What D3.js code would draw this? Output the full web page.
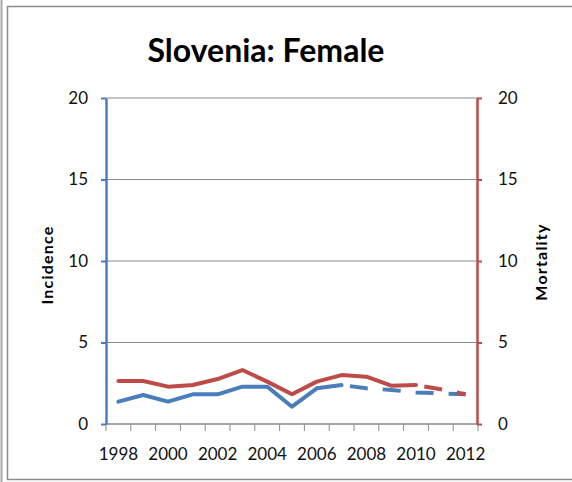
<!DOCTYPE html>
<html>
<head>
<meta charset="utf-8">
<script src="https://cdn.jsdelivr.net/npm/d3@7"></script>
<style>
  html, body { margin: 0; padding: 0; background: #fff; }
  svg { display: block; }
  text { font-family: Lato, "Open Sans", "Liberation Sans", sans-serif; }
</style>
</head>
<body>
<svg id="chart" width="572" height="482"></svg>
<script>
// Slovenia, female: incidence (left axis) and mortality (right axis), 1998-2012
const years = [1998, 1999, 2000, 2001, 2002, 2003, 2004, 2005, 2006, 2007, 2008, 2009, 2010, 2011, 2012];
const incidence = [1.37, 1.78, 1.37, 1.82, 1.82, 2.29, 2.29, 1.06, 2.19, 2.39, 2.19, 2.09, 1.94, 1.88, 1.82];
const mortality = [2.64, 2.64, 2.29, 2.39, 2.76, 3.31, 2.6, 1.82, 2.6, 3.0, 2.9, 2.35, 2.39, 2.13, 1.82];
// last observed year for each series; later years are projections (dashed)
const incidenceLastObserved = 2007;
const mortalityLastObserved = 2010;
const yTicks = [0, 5, 10, 15, 20];
const xTickLabels = [1998, 2000, 2002, 2004, 2006, 2008, 2010, 2012];

const blue = "#4a7ebb";
const red = "#be4b48";
const gridColor = "#8a8a8a";
const labelFont = "Lato, 'Open Sans', sans-serif";

const svg = d3.select("#chart");

// frame
svg.append("line").attr("x1", 1.5).attr("x2", 1.5).attr("y1", 0).attr("y2", 482)
  .attr("stroke", "#a8a8a8").attr("stroke-width", 2);
svg.append("rect").attr("x", 7.5).attr("y", 6.5).attr("width", 580).attr("height", 473)
  .attr("fill", "#fff").attr("stroke", "#8c8c8c").attr("stroke-width", 1.5);

const plotLeft = 106, plotRight = 478, plotTop = 98, plotBottom = 424;

const x = d3.scaleBand().domain(years).range([plotLeft, plotRight]);
const y = d3.scaleLinear().domain([0, 20]).range([plotBottom, plotTop]);
const cx = d => x(d) + x.bandwidth() / 2;

// title
svg.append("text")
  .attr("x", 266).attr("y", 62)
  .attr("text-anchor", "middle")
  .attr("font-size", 32).attr("font-weight", "bold").attr("fill", "#000")
  .text("Slovenia: Female");

// horizontal gridlines
svg.append("g").selectAll("line")
  .data(yTicks.filter(v => v > 0))
  .join("line")
  .attr("x1", plotLeft).attr("x2", plotRight)
  .attr("y1", d => y(d)).attr("y2", d => y(d))
  .attr("stroke", gridColor).attr("stroke-width", 1);

// category axis: baseline, boundary ticks, labels on even years
svg.append("line")
  .attr("x1", plotLeft).attr("x2", plotRight).attr("y1", y(0)).attr("y2", y(0))
  .attr("stroke", gridColor).attr("stroke-width", 1.5);
svg.append("g").selectAll("line")
  .data(years.concat([null]))
  .join("line")
  .attr("x1", (d, i) => plotLeft + i * x.step()).attr("x2", (d, i) => plotLeft + i * x.step())
  .attr("y1", y(0)).attr("y2", y(0) + 7)
  .attr("stroke", gridColor).attr("stroke-width", 1);

const xAxis = svg.append("g")
  .attr("transform", `translate(0,${plotBottom})`)
  .call(d3.axisBottom(x).tickValues(xTickLabels).tickSize(0).tickPadding(24));
xAxis.select(".domain").remove();
xAxis.selectAll("text").attr("font-size", 17).attr("fill", "#111")
  .style("font-family", labelFont);

// left (incidence) axis
const yLeft = svg.append("g")
  .attr("transform", `translate(${plotLeft},0)`)
  .call(d3.axisLeft(y).tickValues(yTicks).tickSize(5).tickPadding(13).tickSizeOuter(0));
yLeft.select(".domain").attr("stroke", blue).attr("stroke-width", 2.5);
yLeft.selectAll(".tick line").attr("stroke", blue).attr("stroke-width", 2);
yLeft.selectAll("text").attr("font-size", 17).attr("fill", "#111")
  .style("font-family", labelFont);

// right (mortality) axis
const yRight = svg.append("g")
  .attr("transform", `translate(${plotRight - 1},0)`)
  .call(d3.axisRight(y).tickValues(yTicks).tickSize(5).tickPadding(16).tickSizeOuter(0));
yRight.select(".domain").attr("stroke", red).attr("stroke-width", 2.5);
yRight.selectAll(".tick line").attr("stroke", red).attr("stroke-width", 2);
yRight.selectAll("text").attr("font-size", 17).attr("fill", "#111")
  .style("font-family", labelFont);

// axis titles
svg.append("text")
  .attr("transform", `translate(53,265) rotate(-90)`)
  .attr("text-anchor", "middle")
  .attr("font-size", 16).attr("font-weight", "bold").attr("fill", "#000")
  .attr("letter-spacing", 1.2)
  .text("Incidence");
svg.append("text")
  .attr("transform", `translate(547,262) rotate(-90)`)
  .attr("text-anchor", "middle")
  .attr("font-size", 16).attr("font-weight", "bold").attr("fill", "#000")
  .attr("letter-spacing", 1.2)
  .text("Mortality");

// series
const line = d3.line().x(d => cx(d.year)).y(d => y(d.value));

function drawSeries(values, lastObserved, color) {
  const pts = years.map((yr, i) => ({ year: yr, value: values[i] }));
  const observed = pts.filter(d => d.year <= lastObserved);
  const projected = pts.filter(d => d.year >= lastObserved);
  svg.append("path").datum(observed)
    .attr("d", line).attr("fill", "none")
    .attr("stroke", color).attr("stroke-width", 4)
    .attr("stroke-linejoin", "round").attr("stroke-linecap", "round");
  svg.append("path").datum(projected)
    .attr("d", line).attr("fill", "none")
    .attr("stroke", color).attr("stroke-width", 4)
    .attr("stroke-dasharray", "18,15").attr("stroke-dashoffset", 24.6)
    .attr("stroke-linejoin", "round");
}

drawSeries(incidence, incidenceLastObserved, blue);
drawSeries(mortality, mortalityLastObserved, red);
</script>
</body>
</html>
